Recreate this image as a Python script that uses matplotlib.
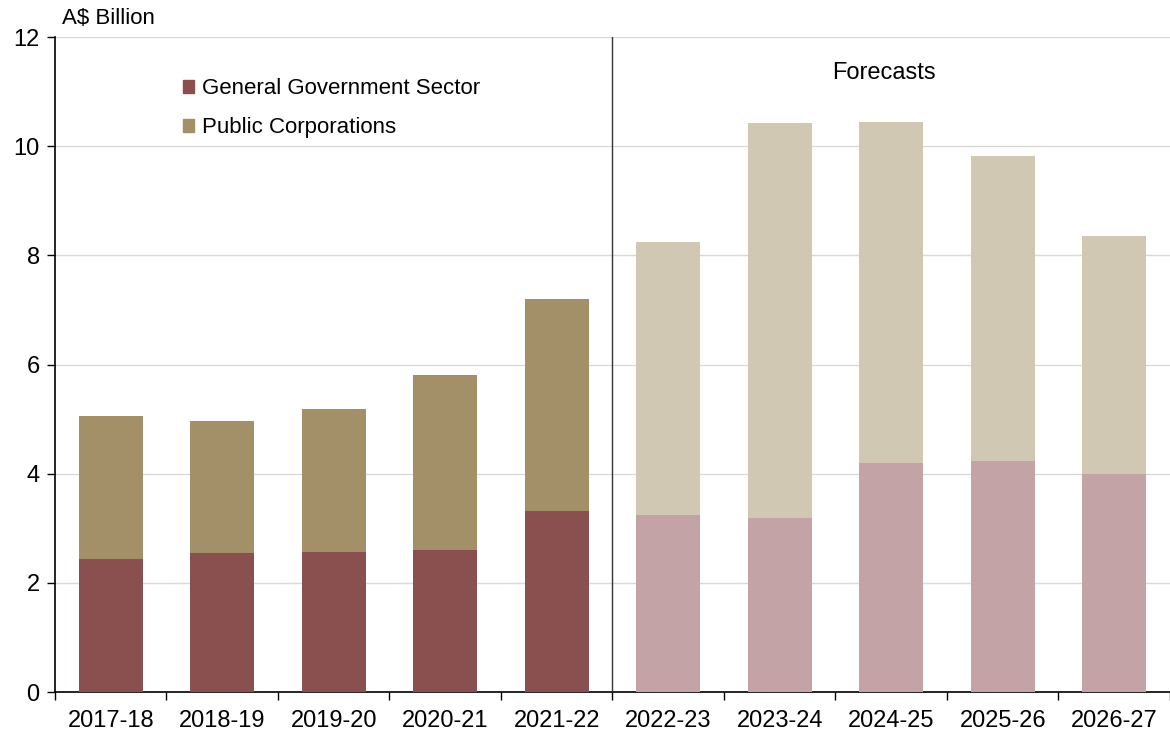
import numpy as np
import matplotlib.pyplot as plt
from matplotlib.patches import Patch

plt.rcParams['font.family'] = ['Liberation Sans', 'DejaVu Sans']

# 财年及两部分数值（A$ 十亿）
years = ['2017-18', '2018-19', '2019-20', '2020-21', '2021-22',
         '2022-23', '2023-24', '2024-25', '2025-26', '2026-27']
general_gov = [2.44, 2.55, 2.56, 2.60, 3.32, 3.24, 3.19, 4.19, 4.23, 3.99]
public_corp = [2.61, 2.41, 2.62, 3.21, 3.88, 5.00, 7.23, 6.25, 5.60, 4.36]
n_actual = 5

# 颜色：实际值深色，预测值浅色
gg_col = ['#8A4F4F'] * n_actual + ['#C3A3A5'] * (len(years) - n_actual)
pc_col = ['#A38F68'] * n_actual + ['#D0C8B2'] * (len(years) - n_actual)

fig = plt.figure(figsize=(11.7, 7.3), dpi=100)
ax = fig.add_axes([0.047, 0.052, 0.953, 0.897])

x = np.arange(len(years))
ax.bar(x, general_gov, width=0.57, color=gg_col, zorder=3)
ax.bar(x, public_corp, width=0.57, bottom=general_gov, color=pc_col, zorder=3)

ax.set_xlim(-0.5, len(years) - 0.5)
ax.set_ylim(0, 12)
ax.set_yticks(range(0, 13, 2))
ax.yaxis.grid(True, color='#D9D9D9', linewidth=1, zorder=0)
ax.tick_params(axis='y', labelsize=17, length=6, width=1, direction='out', pad=5)

# 标签放在类别中心，刻度线放在类别边界
ax.set_xticks(x)
ax.set_xticklabels(years)
ax.set_xticks(np.arange(-0.5, len(years), 1), minor=True)
ax.tick_params(axis='x', which='major', length=0, labelsize=17, pad=13)
ax.tick_params(axis='x', which='minor', length=6, width=1, direction='out')

for side in ['top', 'right']:
    ax.spines[side].set_visible(False)
ax.spines['left'].set_linewidth(1.2)
ax.spines['bottom'].set_linewidth(1.2)

# 实际与预测的分隔线
ax.axvline(n_actual - 0.5, color='#333333', linewidth=1, zorder=4)
ax.text(6.93, 11.34, 'Forecasts', fontsize=17, ha='center', va='center')

fig.text(0.053, 0.975, 'A$ Billion', fontsize=16, ha='left', va='center')

handles = [Patch(color='#8A4F4F', label='General Government Sector'),
           Patch(color='#A38F68', label='Public Corporations')]
ax.legend(handles=handles, loc='upper left', bbox_to_anchor=(0.097, 0.968),
          frameon=False, fontsize=16, handlelength=0.5, handleheight=0.5,
          handletextpad=0.35, labelspacing=0.82)

fig.savefig('out.png', dpi=100)
